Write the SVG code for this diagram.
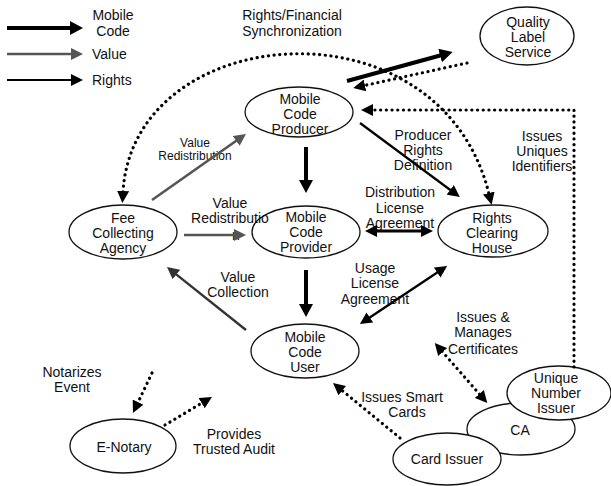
<svg xmlns="http://www.w3.org/2000/svg" width="611" height="486" viewBox="0 0 611 486">
<style>
text{font-family:"Liberation Sans",Arial,sans-serif;font-size:14px;fill:#111;text-anchor:middle}
.st{text-anchor:start}
.sm{font-size:12px}
ellipse{fill:#fff;stroke:#111;stroke-width:1.3}
.mc{stroke:#000;stroke-width:4;fill:none}
.rt{stroke:#000;stroke-width:2.2;fill:none}
.dr{stroke:#000;stroke-width:3;fill:none}
.val{stroke:#555;stroke-width:2.6;fill:none}
.val2{stroke:#333;stroke-width:2.4;fill:none}
.dot{stroke:#000;stroke-width:3.2;fill:none;stroke-dasharray:0.1 5.6;stroke-linecap:round}
</style>
<defs>
<marker id="hm" markerUnits="userSpaceOnUse" markerWidth="14" markerHeight="14" refX="2" refY="7" orient="auto"><path d="M0,0 L13,7 L0,14 z" fill="#000"/></marker>
<marker id="hk" markerUnits="userSpaceOnUse" markerWidth="13" markerHeight="12" refX="1" refY="6" orient="auto-start-reverse"><path d="M0,0 L12,6 L0,12 z" fill="#000"/></marker>
<marker id="hv" markerUnits="userSpaceOnUse" markerWidth="13" markerHeight="12" refX="1" refY="6" orient="auto"><path d="M0,0 L12,6 L0,12 z" fill="#555"/></marker>
<marker id="hv2" markerUnits="userSpaceOnUse" markerWidth="13" markerHeight="12" refX="1" refY="6" orient="auto"><path d="M0,0 L12,6 L0,12 z" fill="#333"/></marker>
</defs>

<g id="legend">
<line class="mc" x1="7" y1="28" x2="72" y2="28" marker-end="url(#hm)"/>
<line class="val" x1="7" y1="54" x2="72" y2="54" marker-end="url(#hv)"/>
<line class="rt" x1="7" y1="80" x2="72" y2="80" marker-end="url(#hk)"/>
<text x="113" y="20">Mobile</text>
<text x="113" y="36">Code</text>
<text class="st" x="92" y="59">Value</text>
<text class="st" x="92" y="85">Rights</text>
</g>

<g id="node-quality"><ellipse cx="527" cy="36" rx="47" ry="29"/><text x="528" y="27">Quality</text><text x="528" y="42">Label</text><text x="528" y="57">Service</text></g>
<g id="node-producer"><ellipse cx="299" cy="112" rx="54" ry="25"/><text x="300" y="104">Mobile</text><text x="300" y="119">Code</text><text x="300" y="134">Producer</text></g>
<g id="node-fee"><ellipse cx="123" cy="232" rx="54" ry="27"/><text x="123" y="223">Fee</text><text x="123" y="238">Collecting</text><text x="123" y="253">Agency</text></g>
<g id="node-provider"><ellipse cx="306" cy="232" rx="54" ry="26"/><text x="306" y="222">Mobile</text><text x="306" y="237">Code</text><text x="306" y="252">Provider</text></g>
<g id="node-rch"><ellipse cx="493" cy="231" rx="55" ry="26"/><text x="492" y="223">Rights</text><text x="492" y="238">Clearing</text><text x="492" y="253">House</text></g>
<g id="node-user"><ellipse cx="305" cy="351" rx="54" ry="27"/><text x="305" y="342">Mobile</text><text x="305" y="357">Code</text><text x="305" y="372">User</text></g>
<g id="node-enotary"><ellipse cx="123" cy="446" rx="53" ry="27"/><text x="124" y="452">E-Notary</text></g>
<g id="node-ca"><ellipse cx="521" cy="429" rx="54" ry="26"/><text x="520" y="435">CA</text></g>
<g id="node-unique"><ellipse cx="559" cy="393" rx="52" ry="27"/><text x="556" y="383">Unique</text><text x="556" y="398">Number</text><text x="556" y="413">Issuer</text></g>
<g id="node-card"><ellipse cx="447" cy="459" rx="54" ry="26"/><text x="447" y="464">Card Issuer</text></g>

<g id="labels">
<text x="292" y="20">Rights/Financial</text>
<text x="292" y="36">Synchronization</text>
<text class="sm" x="195" y="147">Value</text>
<text class="sm" x="195" y="160">Redistribution</text>
<text x="230" y="208">Value</text>
<text x="230" y="223">Redistributio</text>
<text x="236" y="240">n</text>
<text x="423" y="140">Producer</text>
<text x="423" y="155">Rights</text>
<text x="423" y="170">Definition</text>
<text x="542" y="141">Issues</text>
<text x="542" y="156">Uniques</text>
<text x="542" y="171">Identifiers</text>
<text x="400" y="197">Distribution</text>
<text x="400" y="213">License</text>
<text x="400" y="228">Agreement</text>
<text x="375" y="273">Usage</text>
<text x="375" y="288">License</text>
<text x="375" y="304">Agreement</text>
<text x="238" y="282">Value</text>
<text x="238" y="297">Collection</text>
<text x="483" y="322">Issues &amp;</text>
<text x="483" y="337">Manages</text>
<text x="483" y="354">Certificates</text>
<text x="402" y="402">Issues Smart</text>
<text x="407" y="417">Cards</text>
<text x="72" y="377">Notarizes</text>
<text x="72" y="392">Event</text>
<text x="234" y="439">Provides</text>
<text x="234" y="454">Trusted Audit</text>
</g>

<g id="connectors">
<path class="dot" d="M123,192 C133,20 440,-5 489,194" marker-start="url(#hk)" marker-end="url(#hk)"/>
<line class="mc" x1="347" y1="81" x2="442" y2="55" marker-end="url(#hm)"/>
<line class="dot" x1="467" y1="63" x2="364" y2="85.6" marker-end="url(#hk)"/>
<polyline class="dot" points="574,367 574,110 372,110" marker-end="url(#hk)"/>
<line class="rt" x1="360" y1="123" x2="451" y2="190.5" marker-end="url(#hk)"/>
<line class="mc" x1="306" y1="147" x2="306" y2="182" marker-end="url(#hm)"/>
<line class="mc" x1="306" y1="270" x2="306" y2="306" marker-end="url(#hm)"/>
<line class="dr" x1="376" y1="231" x2="422" y2="231" marker-start="url(#hk)" marker-end="url(#hk)"/>
<line class="rt" x1="369" y1="318" x2="438" y2="272" marker-start="url(#hk)" marker-end="url(#hk)"/>
<line class="val" x1="152" y1="200" x2="237" y2="140.3" marker-end="url(#hv)"/>
<line class="val" x1="184" y1="235" x2="235" y2="235" marker-end="url(#hv)"/>
<line class="val2" x1="246" y1="330" x2="175.6" y2="273.9" marker-end="url(#hv2)"/>
<line class="dot" x1="152" y1="373" x2="137.7" y2="403" marker-end="url(#hk)"/>
<line class="dot" x1="165" y1="425" x2="202.5" y2="402.6" marker-end="url(#hk)"/>
<line class="dot" x1="442" y1="351.3" x2="480" y2="394.7" marker-start="url(#hk)" marker-end="url(#hk)"/>
<line class="dot" x1="400" y1="438" x2="341.5" y2="390" marker-end="url(#hk)"/>
</g>
</svg>
